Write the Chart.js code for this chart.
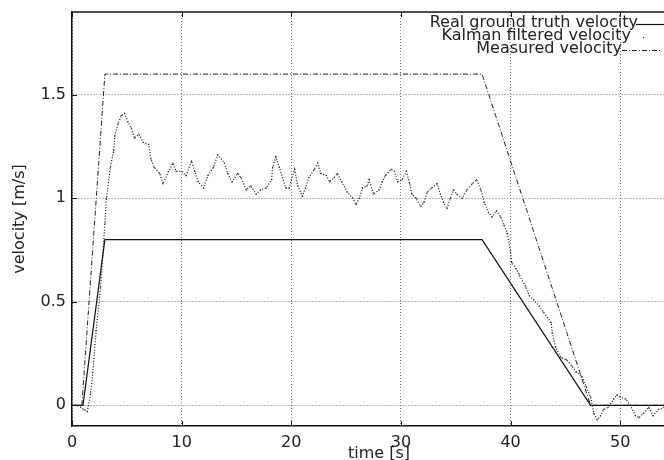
<!DOCTYPE html>
<html>
<head>
<meta charset="utf-8">
<script src="https://cdn.jsdelivr.net/npm/chart.js@4/dist/chart.umd.min.js"></script>
<style>
  html, body { margin: 0; padding: 0; background: #fff; overflow: hidden; }
  #wrap { width: 686px; height: 460px; }
</style>
</head>
<body>
<div id="wrap"><canvas id="c" width="686" height="460"></canvas></div>
<script>
// ---- data ----
const seriesLabels = ['Real ground truth velocity', 'Kalman filtered velocity', 'Measured velocity'];

const truthT = [0, 1, 3, 37.4, 47.3, 56];
const truthV = [0, 0, 0.8, 0.8, 0, 0];

const measT = [0, 0.9, 3.0, 37.4, 47.3, 56];
const measV = [0, 0, 1.6, 1.6, 0, 0];

const kalmanT = [0, 0.4, 0.8, 1.1, 1.4, 1.7, 1.9, 2.2, 2.6, 2.8, 3.0, 3.14, 3.5, 3.8, 3.9, 4.2, 4.5, 4.8, 5.1, 5.4,
  5.7, 6.1, 6.5, 7.0, 7.2, 7.5, 8.0, 8.3, 8.8, 9.2, 9.5, 10.0, 10.4, 10.9, 11.2, 11.5, 12.0, 12.4, 12.9, 13.3,
  13.9, 14.2, 14.6, 15.1, 15.4, 15.9, 16.3, 16.8, 17.2, 17.7, 18.2, 18.3, 18.6, 18.9, 19.2, 19.5, 19.8, 20.3, 20.6, 21.0,
  21.3, 21.6, 22.1, 22.4, 22.7, 23.2, 23.5, 23.9, 24.2, 24.6, 25.1, 25.6, 25.9, 26.2, 26.5, 26.9, 27.1, 27.5, 28.0, 28.3,
  28.6, 29.1, 29.4, 29.7, 30.1, 30.5, 30.8, 31.0, 31.4, 31.8, 32.1, 32.4, 32.8, 33.3, 33.6, 33.9, 34.2, 34.5, 34.8, 35.1,
  35.6, 36.0, 36.5, 36.9, 37.3, 37.6, 38.0, 38.3, 38.7, 39.1, 39.4, 39.7, 40.0, 40.1, 40.5, 40.8, 41.4, 41.7, 42.1, 42.6,
  43.0, 43.7, 43.8, 44.1, 44.6, 45.1, 45.6, 46.0, 46.5, 46.9, 47.3, 47.6, 47.9, 48.2, 48.5, 48.9, 49.4, 49.7, 50.0, 50.5,
  50.9, 51.4, 51.7, 52.1, 52.6, 53.0, 53.5, 54.0, 54.5, 55.0, 56.0];
const kalmanV = [0, 0, -0.01, -0.02, -0.03, 0.06, 0.16, 0.36, 0.57, 0.72, 0.88, 1.0, 1.15, 1.23, 1.30, 1.36, 1.40, 1.41, 1.37, 1.34,
  1.29, 1.31, 1.27, 1.26, 1.19, 1.15, 1.12, 1.07, 1.13, 1.17, 1.13, 1.13, 1.11, 1.18, 1.13, 1.08, 1.05, 1.11, 1.15, 1.21,
  1.17, 1.12, 1.08, 1.12, 1.10, 1.04, 1.06, 1.02, 1.04, 1.05, 1.09, 1.15, 1.20, 1.15, 1.10, 1.05, 1.05, 1.14, 1.06, 1.01,
  1.05, 1.10, 1.14, 1.17, 1.12, 1.11, 1.08, 1.10, 1.12, 1.08, 1.03, 1.00, 0.97, 1.00, 1.05, 1.06, 1.09, 1.02, 1.04, 1.08,
  1.11, 1.14, 1.13, 1.08, 1.09, 1.13, 1.07, 1.02, 1.00, 0.96, 0.98, 1.03, 1.05, 1.07, 1.02, 0.98, 0.95, 1.00, 1.04, 1.02,
  1.00, 1.04, 1.07, 1.09, 1.04, 0.98, 0.93, 0.91, 0.94, 0.91, 0.87, 0.83, 0.74, 0.69, 0.66, 0.63, 0.57, 0.53, 0.51, 0.48,
  0.45, 0.40, 0.35, 0.28, 0.23, 0.22, 0.19, 0.16, 0.14, 0.09, 0.04, -0.04, -0.07, -0.05, -0.02, -0.01, 0.03, 0.05, 0.04, 0.03,
  0.00, -0.05, -0.06, -0.04, -0.01, -0.05, -0.02, -0.01, 0.00, 0.01, 0];

const xTicks = [0, 10, 20, 30, 40, 50];
const yTicks = [0, 0.5, 1, 1.5];
const xRange = [0, 56];
const yRange = [-0.1, 1.9];
const xTitle = 'time [s]';
const yTitle = 'velocity [m/s]';

// ---- build ----
const pts = (t, v) => t.map((x, i) => ({ x, y: v[i] }));
const FONT = 'DejaVu Sans';

const framePlugin = {
  id: 'frame',
  afterDatasetsDraw(chart) {
    const { ctx, chartArea: a, scales: { x, y } } = chart;
    ctx.save();
    ctx.strokeStyle = '#111';
    ctx.lineWidth = 1.5;
    ctx.beginPath();
    ctx.moveTo(a.left, a.top);
    ctx.lineTo(a.right, a.top);
    ctx.stroke();
    ctx.lineWidth = 1;
    ctx.beginPath();
    x.ticks.forEach(t => {
      const px = Math.round(x.getPixelForValue(t.value)) + 0.5;
      ctx.moveTo(px, a.bottom); ctx.lineTo(px, a.bottom - 5);
      ctx.moveTo(px, a.top); ctx.lineTo(px, a.top + 5);
    });
    y.ticks.forEach(t => {
      const py = Math.round(y.getPixelForValue(t.value)) + 0.5;
      ctx.moveTo(a.left, py); ctx.lineTo(a.left + 5, py);
    });
    ctx.stroke();
    ctx.restore();
  }
};

const keyPlugin = {
  id: 'key',
  afterDatasetsDraw(chart) {
    const { ctx } = chart;
    const rows = [
      { textRight: 638, y: 23, s0: 636, s1: 664 },
      { textRight: 631, y: 36, s0: 643, s1: 644 },
      { textRight: 622, y: 49, s0: 622, s1: 660 }
    ];
    ctx.save();
    ctx.font = '16px "' + FONT + '"';
    ctx.textAlign = 'right';
    ctx.textBaseline = 'middle';
    chart.data.datasets.forEach((ds, i) => {
      const r = rows[i];
      ctx.fillStyle = '#222';
      ctx.fillText(ds.label, r.textRight, r.y);
      ctx.strokeStyle = ds.borderColor;
      ctx.lineWidth = ds.borderWidth;
      ctx.setLineDash(ds.borderDash || []);
      ctx.beginPath();
      ctx.moveTo(r.s0, r.y + 1.5);
      ctx.lineTo(r.s1, r.y + 1.5);
      ctx.stroke();
    });
    ctx.restore();
  }
};

new Chart(document.getElementById('c'), {
  type: 'scatter',
  data: {
    datasets: [
      { label: seriesLabels[0], data: pts(truthT, truthV), showLine: true, borderColor: '#111', borderWidth: 1.2, pointRadius: 0, pointHoverRadius: 0, tension: 0 },
      { label: seriesLabels[1], data: pts(kalmanT, kalmanV), showLine: true, borderColor: '#111', borderWidth: 1.2, borderDash: [1, 1.8], pointRadius: 0.7, pointHoverRadius: 0, pointBorderWidth: 0, pointBackgroundColor: '#333', tension: 0 },
      { label: seriesLabels[2], data: pts(measT, measV), showLine: true, borderColor: '#222', borderWidth: 1, borderDash: [5, 2, 1, 2], pointRadius: 0, pointHoverRadius: 0, tension: 0 }
    ]
  },
  options: {
    responsive: false,
    animation: false,
    events: [],
    layout: { autoPadding: false, padding: { top: 12, right: 0, left: 0, bottom: 0 } },
    plugins: { legend: { display: false }, tooltip: { enabled: false } },
    scales: {
      x: {
        type: 'linear', min: xRange[0], max: xRange[1],
        afterBuildTicks: s => { s.ticks = xTicks.map(v => ({ value: v })); },
        afterFit: s => { s.height = 34; s.paddingLeft = 0; s.paddingRight = 0; },
        grid: { color: '#777', lineWidth: 1, drawTicks: false },
        border: { display: true, color: '#111', width: 1.5, dash: [1, 2] },
        ticks: { padding: 7, color: '#222', font: { family: FONT, size: 16 }, maxRotation: 0, callback: v => String(v) },
        title: { display: true, text: xTitle, color: '#222', font: { family: FONT, size: 16 }, padding: { top: 0, bottom: -3 } }
      },
      y: {
        type: 'linear', min: yRange[0], max: yRange[1],
        afterBuildTicks: s => { s.ticks = yTicks.map(v => ({ value: v })); },
        afterFit: s => { s.width = 72; s.paddingTop = 0; s.paddingBottom = 0; },
        grid: { color: '#777', lineWidth: 1, drawTicks: false },
        border: { display: true, color: '#111', width: 1.5, dash: [1, 2] },
        ticks: { padding: 6, color: '#222', font: { family: FONT, size: 16 }, callback: v => String(v) },
        title: { display: true, text: yTitle, color: '#222', font: { family: FONT, size: 16 }, padding: { top: 10, bottom: 0 } }
      }
    }
  },
  plugins: [framePlugin, keyPlugin]
});
</script>
</body>
</html>
